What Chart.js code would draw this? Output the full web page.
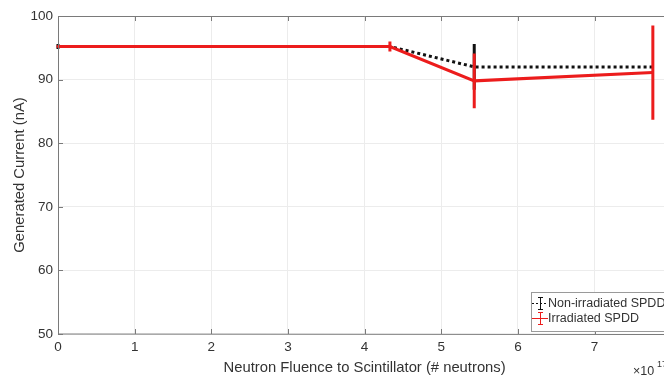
<!DOCTYPE html>
<html>
<head>
<meta charset="utf-8">
<script src="https://cdn.jsdelivr.net/npm/chart.js"></script>
<style>
  html, body { margin: 0; padding: 0; background: #fff; overflow: hidden; }
  #wrap { width: 680px; height: 377px; }
</style>
</head>
<body>
<div id="wrap"><canvas id="fluenceChart"></canvas></div>
<script>
// fluence values are in units of 10^17 neutrons (axis multiplier shown at bottom right)
const fluence = [0, 4.33, 5.43, 7.76];
const nonIrradiated = [95.2, 95.2, 92.0, 92.0];
const nonIrradiatedErr = [0.4, 0, 3.6, 0];
const irradiated = [95.2, 95.2, 89.8, 91.1];
const irradiatedErr = [0.2, 0.8, 4.3, 7.4];
const yTicks = [50, 60, 70, 80, 90, 100];

const RED = '#ec1c1c';
const BLACK = '#111111';
const AXIS = '#7a7a7a';
const TEXT = '#333333';
const FONT = '"Liberation Sans", Arial, sans-serif';

function toPoints(xs, ys) {
    return xs.map((x, i) => ({ x: x, y: ys[i] }));
}

// draws vertical error bars right after the dataset they belong to
const errorBarPlugin = {
    id: 'errorBars',
    afterDatasetDraw(chart, args) {
        const ds = chart.data.datasets[args.index];
        if (!ds.errors) return;
        const ctx = chart.ctx;
        const xs = chart.scales.x, ys = chart.scales.y;
        ctx.save();
        ctx.beginPath();
        ctx.rect(chart.chartArea.left - 2, chart.chartArea.top, chart.chartArea.width + 4, chart.chartArea.height);
        ctx.clip();
        ctx.strokeStyle = ds.borderColor;
        ctx.lineWidth = 3;
        ctx.setLineDash([]);
        ds.data.forEach((p, i) => {
            const e = ds.errors[i];
            if (!e) return;
            const px = xs.getPixelForValue(p.x);
            ctx.beginPath();
            ctx.moveTo(px, ys.getPixelForValue(p.y - e));
            ctx.lineTo(px, ys.getPixelForValue(p.y + e));
            ctx.stroke();
        });
        ctx.restore();
    }
};

// MATLAB-ish frame: inward ticks, box, legend and axis multiplier
const framePlugin = {
    id: 'frame',
    afterDraw(chart) {
        const ctx = chart.ctx;
        const a = chart.chartArea;
        const xs = chart.scales.x, ys = chart.scales.y;
        ctx.save();
        ctx.strokeStyle = AXIS;
        ctx.lineWidth = 1;
        ctx.setLineDash([]);
        ctx.beginPath();
        ctx.moveTo(a.left + 0.5, a.top + 0.5);
        ctx.lineTo(a.right, a.top + 0.5);
        ctx.moveTo(a.left + 0.5, a.top);
        ctx.lineTo(a.left + 0.5, a.bottom);
        ctx.lineTo(a.right, a.bottom + 0.5);
        xs.ticks.forEach(t => {
            const px = Math.round(xs.getPixelForValue(t.value)) + 0.5;
            ctx.moveTo(px, a.bottom);
            ctx.lineTo(px, a.bottom - 5);
            ctx.moveTo(px, a.top);
            ctx.lineTo(px, a.top + 5);
        });
        ys.ticks.forEach(t => {
            const py = Math.round(ys.getPixelForValue(t.value)) + 0.5;
            ctx.moveTo(a.left, py);
            ctx.lineTo(a.left + 5, py);
        });
        ctx.stroke();

        // legend box
        const lx = 531, ly = 292, lw = 150, lh = 39;
        ctx.fillStyle = '#ffffff';
        ctx.fillRect(lx, ly, lw, lh);
        ctx.strokeStyle = '#9a9a9a';
        ctx.strokeRect(lx + 0.5, ly + 0.5, lw, lh);
        const rows = [
            { label: 'Non-irradiated SPDD', color: BLACK, dash: [2, 2], y: ly + 11 },
            { label: 'Irradiated SPDD', color: RED, dash: [], y: ly + 26 }
        ];
        ctx.font = '12.5px ' + FONT;
        ctx.textBaseline = 'middle';
        ctx.textAlign = 'left';
        rows.forEach(r => {
            ctx.strokeStyle = r.color;
            ctx.lineWidth = 1;
            ctx.setLineDash(r.dash);
            ctx.beginPath();
            ctx.moveTo(lx + 1, r.y + 0.5);
            ctx.lineTo(lx + 17, r.y + 0.5);
            ctx.stroke();
            ctx.setLineDash([]);
            ctx.beginPath();
            ctx.moveTo(lx + 9.5, r.y - 6);
            ctx.lineTo(lx + 9.5, r.y + 7);
            ctx.moveTo(lx + 7, r.y - 6 + 0.5);
            ctx.lineTo(lx + 12, r.y - 6 + 0.5);
            ctx.moveTo(lx + 7, r.y + 7 - 0.5);
            ctx.lineTo(lx + 12, r.y + 7 - 0.5);
            ctx.stroke();
            ctx.fillStyle = TEXT;
            ctx.fillText(r.label, lx + 17, r.y + 1);
        });

        // x-axis multiplier
        ctx.fillStyle = TEXT;
        ctx.font = '12.5px ' + FONT;
        ctx.textBaseline = 'alphabetic';
        ctx.fillText('\u00d710', 633, 375);
        ctx.font = '9px ' + FONT;
        ctx.fillText('17', 657, 367);
        ctx.restore();
    }
};

const ctx = document.getElementById('fluenceChart').getContext('2d');
new Chart(ctx, {
    type: 'line',
    data: {
        datasets: [{
            label: 'Irradiated SPDD',
            data: toPoints(fluence, irradiated),
            errors: irradiatedErr,
            borderColor: RED,
            borderWidth: 3,
            pointRadius: 0,
            tension: 0,
            fill: false,
            order: 1
        }, {
            label: 'Non-irradiated SPDD',
            data: toPoints(fluence, nonIrradiated),
            errors: nonIrradiatedErr,
            borderColor: BLACK,
            borderWidth: 3,
            borderDash: [3, 3],
            pointRadius: 0,
            tension: 0,
            fill: false,
            order: 2
        }]
    },
    options: {
        responsive: true,
        maintainAspectRatio: false,
        animation: false,
        layout: { padding: { top: 16, right: 8, left: 0, bottom: 0 } },
        plugins: {
            legend: { display: false },
            tooltip: { enabled: false }
        },
        scales: {
            x: {
                type: 'linear',
                min: 0,
                max: 8,
                afterFit: s => { s.height = 43; },
                ticks: {
                    stepSize: 1,
                    color: TEXT,
                    font: { family: FONT, size: 13.5 },
                    padding: 5,
                    maxRotation: 0
                },
                grid: { color: '#ececec', drawTicks: false },
                border: { display: false },
                title: {
                    display: true,
                    text: 'Neutron Fluence to Scintillator (# neutrons)',
                    color: TEXT,
                    font: { family: FONT, size: 14.8 },
                    padding: { top: 1, bottom: 0 }
                }
            },
            y: {
                min: 50,
                max: 100,
                afterFit: s => { s.width = 58; },
                afterBuildTicks: s => { s.ticks = yTicks.map(v => ({ value: v })); },
                ticks: {
                    color: TEXT,
                    font: { family: FONT, size: 13.5 },
                    padding: 5
                },
                grid: { color: '#ececec', drawTicks: false },
                border: { display: false },
                title: {
                    display: true,
                    text: 'Generated Current (nA)',
                    color: TEXT,
                    font: { family: FONT, size: 14.8 },
                    padding: { top: 11, bottom: 0 }
                }
            }
        }
    },
    plugins: [errorBarPlugin, framePlugin]
});
</script>
</body>
</html>
